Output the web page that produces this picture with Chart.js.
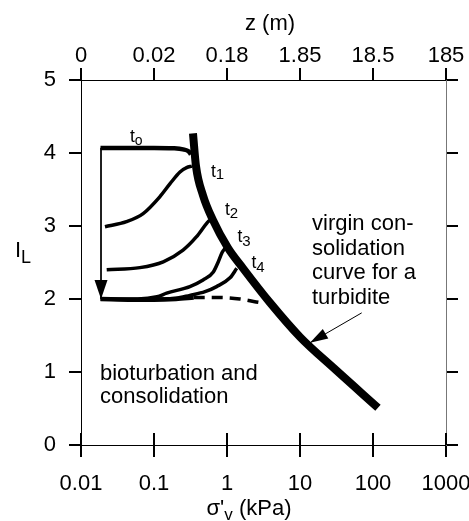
<!DOCTYPE html>
<html>
<head>
<meta charset="utf-8">
<script src="https://cdn.jsdelivr.net/npm/chart.js@4.4.1/dist/chart.umd.min.js"></script>
<style>
html,body{margin:0;padding:0;background:#fff}
#wrap{width:469px;height:521px}
</style>
</head>
<body>
<div id="wrap"><canvas id="c" width="469" height="521"></canvas></div>
<script>
// ─── axes ───
const FONT='"Liberation Sans", Arial, Helvetica, sans-serif';
const xTicks=[0.01,0.1,1,10,100,1000];
const xTickLabels=['0.01','0.1','1','10','100','1000'];
const zTickLabels=['0','0.02','0.18','1.85','18.5','185'];
const yTicks=[0,1,2,3,4,5];

// ─── curves (sigma'v in kPa, IL) ───
const virginX=[0.342,0.376,0.469,0.643,1.03,1.66,3.88,10,30,117];
const virginY=[4.27,3.82,3.42,3.08,2.70,2.42,1.95,1.48,1.04,0.51];
const t0X=[0.0185,0.1,0.18,0.25,0.30,0.32];
const t0Y=[4.07,4.07,4.065,4.05,4.02,3.98];
const t1X=[0.0213,0.042,0.071,0.12,0.166,0.227,0.28,0.33];
const t1Y=[2.99,3.06,3.17,3.40,3.58,3.74,3.80,3.82];
const t2X=[0.0225,0.064,0.134,0.25,0.38,0.53,0.58];
const t2Y=[2.40,2.43,2.51,2.67,2.85,3.04,3.08];
const t3X=[0.0185,0.06,0.11,0.149,0.31,0.47,0.65,0.76,0.86,0.95];
const t3Y=[2.0,2.0,2.03,2.08,2.17,2.26,2.37,2.51,2.64,2.70];
const t4X=[0.1,0.2,0.31,0.5,0.72,1.1,1.36];
const t4Y=[2.0,2.01,2.05,2.1,2.17,2.29,2.42];
const bottomX=[0.0185,0.05,0.1,0.2,0.35];
const bottomY=[2.0,1.99,1.99,2.0,2.02];
const dashX=[0.35,0.8,1.5,2.5,3.3];
const dashY=[2.02,2.02,2.0,1.96,1.94];
const arrowX=[0.0188,0.0188];
const arrowY=[4.07,2.0];
const pointerX=[70,13.7];
const pointerY=[1.81,1.40];

const mk=(xs,ys)=>xs.map((v,i)=>({x:v,y:ys[i]}));
const line=(xs,ys,w,extra)=>Object.assign({data:mk(xs,ys),borderColor:'#000',borderWidth:w,pointRadius:0,fill:false,cubicInterpolationMode:'monotone'},extra||{});

function sub(ctx,base,s,x,yb,f1,f2,dy){
  ctx.font=f1+'px '+FONT;ctx.fillText(base,x,yb);
  const w=ctx.measureText(base).width;
  ctx.font=f2+'px '+FONT;ctx.fillText(s,x+w,yb+dy);
  return x+w+ctx.measureText(s).width;
}
function head(ctx,x0,y0,x1,y1,len,half){
  const a=Math.atan2(y1-y0,x1-x0),c=Math.cos(a),s=Math.sin(a);
  ctx.beginPath();ctx.moveTo(x1,y1);
  ctx.lineTo(x1-len*c+half*s,y1-len*s-half*c);
  ctx.lineTo(x1-len*c-half*s,y1-len*s+half*c);
  ctx.closePath();ctx.fill();
}

const annot={
  id:'annot',
  afterDraw(chart){
    const {ctx,scales:{x,y}}=chart;
    ctx.save();
    ctx.strokeStyle='#000';ctx.fillStyle='#000';ctx.lineWidth=2;
    // bottom ticks cross the axis
    xTicks.forEach(v=>{
      const px=Math.round(x.getPixelForValue(v));
      ctx.beginPath();ctx.moveTo(px,y.bottom);ctx.lineTo(px,y.bottom-12);ctx.stroke();
    });
    // arrow heads
    head(ctx,x.getPixelForValue(arrowX[0]),y.getPixelForValue(arrowY[0]),x.getPixelForValue(arrowX[1]),y.getPixelForValue(arrowY[1]),19,6.5);
    head(ctx,x.getPixelForValue(pointerX[0]),y.getPixelForValue(pointerY[0]),x.getPixelForValue(pointerX[1]),y.getPixelForValue(pointerY[1]),18,5.5);
    // texts
    ctx.textAlign='left';ctx.textBaseline='alphabetic';
    ctx.font='22px '+FONT;
    ['virgin con-','solidation','curve for a','turbidite'].forEach((t,i)=>ctx.fillText(t,312,230+i*24.7));
    ctx.fillText('bioturbation and',100,379.5);
    ctx.fillText('consolidation',100,403);
    sub(ctx,'t','o',130,141.7,17.5,14,3.5);
    sub(ctx,'t','1',211,176.7,17.5,15,2.7);
    sub(ctx,'t','2',225,215,17.5,15,3.2);
    sub(ctx,'t','3',237.5,241.7,17.5,15,4.5);
    sub(ctx,'t','4',251.5,268.3,17.5,15,3.4);
    // axis titles
    ctx.font='22px '+FONT;ctx.textAlign='center';
    ctx.fillText('z (m)',270,29.5);
    ctx.textAlign='left';
    let xe=sub(ctx,"\u03c3'",'v',206.5,515,22,17,5);
    ctx.font='22px '+FONT;ctx.fillText(' (kPa)',xe,515);
    sub(ctx,'I','L',15,257,22,18,6);
    ctx.restore();
  }
};

const tickGrid={drawOnChartArea:false,drawTicks:true,tickLength:12,color:'#000',lineWidth:2};
const tickFont={family:FONT,size:22};
const noPad=s=>{s.paddingLeft=0;s.paddingRight=0;s.paddingTop=0;s.paddingBottom=0;};

new Chart(document.getElementById('c').getContext('2d'),{
  type:'line',
  data:{datasets:[
    line(virginX,virginY,8,{borderCapStyle:'butt'}),
    line(t0X,t0Y,4.5),
    line(t1X,t1Y,3.5),
    line(t2X,t2Y,3.5),
    line(t3X,t3Y,3.5),
    line(t4X,t4Y,3.5),
    line(bottomX,bottomY,4.5),
    line(dashX,dashY,3.5,{borderDash:[11,7]}),
    line(arrowX,arrowY,1,{cubicInterpolationMode:'default',tension:0}),
    line(pointerX,pointerY,1,{cubicInterpolationMode:'default',tension:0})
  ]},
  options:{
    responsive:false,animation:false,devicePixelRatio:1,
    layout:{padding:0},
    plugins:{legend:{display:false},tooltip:{enabled:false}},
    scales:{
      x:{type:'logarithmic',position:'bottom',min:0.01,max:1000,
        afterBuildTicks:s=>{s.ticks=xTicks.map(v=>({value:v}));},
        ticks:{callback:(v,i)=>xTickLabels[i],font:tickFont,color:'#000',padding:14,maxRotation:0,autoSkip:false},
        grid:tickGrid,border:{display:true,color:'#000',width:1},
        afterFit:s=>{s.height=76;noPad(s);}},
      x2:{type:'logarithmic',position:'top',min:0.01,max:1000,
        afterBuildTicks:s=>{s.ticks=xTicks.map(v=>({value:v}));},
        ticks:{callback:(v,i)=>zTickLabels[i],font:tickFont,color:'#000',padding:-1,maxRotation:0,autoSkip:false},
        grid:tickGrid,border:{display:true,color:'#000',width:1},
        afterFit:s=>{s.height=80;noPad(s);}},
      y:{type:'linear',position:'left',min:0,max:5,
        afterBuildTicks:s=>{s.ticks=yTicks.map(v=>({value:v}));},
        ticks:{callback:(v,i)=>String(yTicks[i]),font:tickFont,color:'#000',padding:13},
        grid:tickGrid,border:{display:true,color:'#000',width:1},
        afterFit:s=>{s.width=81;noPad(s);}},
      y2:{type:'linear',position:'right',min:0,max:5,
        afterBuildTicks:s=>{s.ticks=yTicks.map(v=>({value:v}));},
        ticks:{display:false},
        grid:tickGrid,border:{display:true,color:'#777',width:1},
        afterFit:s=>{s.width=23;noPad(s);}}
    }
  },
  plugins:[annot]
});
</script>
</body>
</html>
